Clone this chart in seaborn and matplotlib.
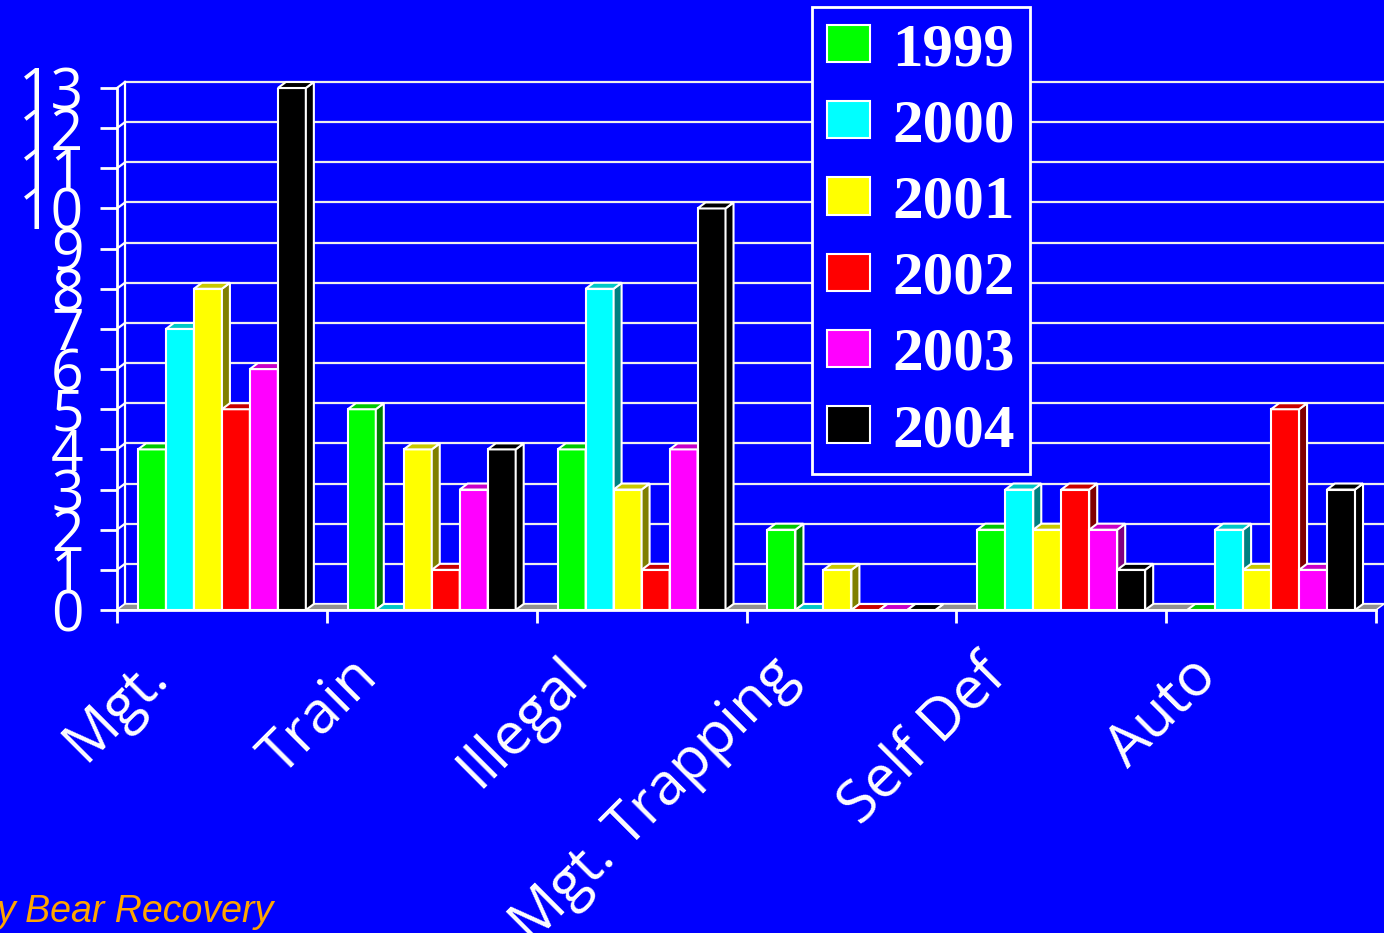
import numpy as np
import pandas as pd
import seaborn as sns
import matplotlib.pyplot as plt
from matplotlib.patches import Polygon, Patch
from matplotlib.colors import to_rgb

causes = ['Mgt.', 'Train', 'Illegal', 'Mgt. Trapping', 'Self Def', 'Auto']
years = ['1999', '2000', '2001', '2002', '2003', '2004']
y1999 = [4, 5, 4, 2, 2, 0]
y2000 = [7, 0, 8, 0, 3, 2]
y2001 = [8, 4, 3, 1, 2, 1]
y2002 = [5, 1, 1, 0, 3, 5]
y2003 = [6, 3, 4, 0, 2, 1]
y2004 = [13, 4, 10, 0, 1, 3]
colors = ['#00FF00', '#00FFFF', '#FFFF00', '#FF0000', '#FF00FF', '#000000']
yticks = list(range(0, 14))

series = [y1999, y2000, y2001, y2002, y2003, y2004]
df = pd.DataFrame({
    'cause': causes * len(years),
    'year': np.repeat(years, len(causes)),
    'count': np.concatenate(series),
})

blue = '#0000FF'
plt.rcParams['font.family'] = ['Open Sans', 'DejaVu Sans']

fig = plt.figure(figsize=(13.84, 9.33), dpi=100, facecolor=blue)
ax = fig.add_axes([117 / 1384, 1 - 610 / 933, 1259 / 1384, 522 / 933])
ax.set_facecolor(blue)

sns.barplot(data=df, x='cause', y='count', hue='year', order=causes,
            hue_order=years, palette=colors, saturation=1, width=0.8,
            edgecolor='white', linewidth=1.5, legend=False, ax=ax)

ax.set_xlim(-0.5, len(causes) - 0.5)
ax.set_ylim(0, 13)

# depth of the fake 3D look, in data units (8px right, 6px up)
dx = 8 / (ax.bbox.width / len(causes))
dy = 6 / (ax.bbox.height / 13)

# back wall grid and left wall
x0, x1 = -0.5, len(causes) - 0.5
for v in yticks:
    ax.plot([x0 + dx, x1 + dx], [v + dy, v + dy], color='#EEEEEE', lw=1.6,
            zorder=1, clip_on=False)
    ax.plot([x0, x0 + dx], [v, v + dy], color='white', lw=1.6, zorder=1,
            clip_on=False)
ax.plot([x0 + dx, x0 + dx], [dy, 13 + dy], color='white', lw=1.6, zorder=1,
        clip_on=False)

# floor
floor = Polygon([(x0, 0), (x0 + dx, dy), (x1 + dx, dy), (x1, 0)],
                closed=True, facecolor='#909090', edgecolor='white', lw=1,
                zorder=2, clip_on=False)
ax.add_patch(floor)

# side and top faces for every bar, drawn left to right
bars = sorted([p for p in ax.patches if p is not floor], key=lambda p: p.get_x())
for k, p in enumerate(bars):
    z = 3 + k * 0.01
    bx, w, h = p.get_x(), p.get_width(), p.get_height()
    rgb = np.array(to_rgb(p.get_facecolor()))
    p.set_zorder(z)
    side = Polygon([(bx + w, 0), (bx + w + dx, dy), (bx + w + dx, h + dy), (bx + w, h)],
                   closed=True, facecolor=rgb * 0.5, edgecolor='white', lw=1.5,
                   zorder=z + 0.001, clip_on=False)
    top = Polygon([(bx, h), (bx + dx, h + dy), (bx + w + dx, h + dy), (bx + w, h)],
                  closed=True, facecolor=rgb * 0.78, edgecolor='white', lw=1.5,
                  zorder=z + 0.002, clip_on=False)
    ax.add_patch(side)
    ax.add_patch(top)

for s in ['top', 'right']:
    ax.spines[s].set_visible(False)
for s in ['left', 'bottom']:
    ax.spines[s].set_color('white')
    ax.spines[s].set_linewidth(2)
    ax.spines[s].set_zorder(10)

ax.set_xticks(np.arange(-0.5, len(causes)))
ax.set_xticklabels([])
ax.tick_params(axis='x', colors='white', length=9, width=2, direction='out')
ax.set_yticks(yticks)
ax.set_yticklabels([str(v) for v in yticks])
ax.tick_params(axis='y', colors='white', labelcolor='white', labelsize=41,
               length=12, width=2, pad=12)
ax.set_xlabel('')
ax.set_ylabel('')

for i, name in enumerate(causes):
    ax.text(i - 0.3, -0.11, name, transform=ax.get_xaxis_transform(),
            rotation=45, rotation_mode='anchor', ha='right', va='center',
            color='white', fontsize=42)

handles = [Patch(facecolor=c, edgecolor='white', lw=1.5) for c in colors]
leg = ax.legend(handles, years, loc='upper left',
                bbox_to_anchor=(812 / 1384, 1 - 7 / 933),
                bbox_transform=fig.transFigure, borderaxespad=0,
                prop={'family': 'Liberation Serif', 'weight': 'bold', 'size': 44},
                handlelength=0.7, handleheight=0.56, handletextpad=0.36,
                labelspacing=0.33, borderpad=0.25, fancybox=False,
                facecolor=blue, edgecolor='white', framealpha=1)
leg.get_frame().set_linewidth(2)
leg.set_zorder(20)
for t in leg.get_texts():
    t.set_color('white')

fig.text(-4 / 1384, 1 - 922 / 933, 'y Bear Recovery', color='#FFA500',
         fontsize=27, style='italic', family=['Liberation Sans', 'DejaVu Sans'],
         ha='left', va='baseline')

fig.savefig('out.png', dpi=100, facecolor=blue)
